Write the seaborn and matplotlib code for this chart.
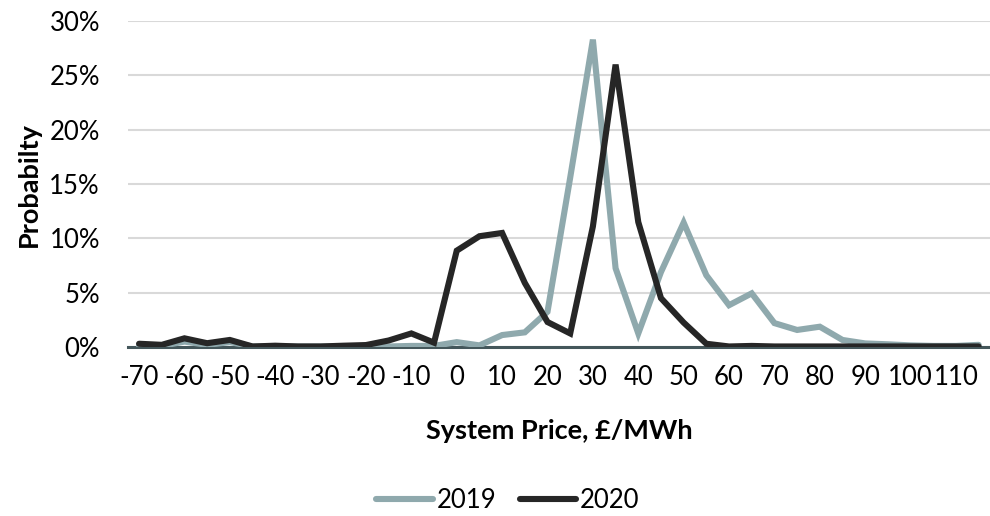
import matplotlib
matplotlib.use("Agg")
import matplotlib.pyplot as plt
from matplotlib.ticker import PercentFormatter
import numpy as np
import pandas as pd
import seaborn as sns

# System price bins (GBP/MWh), 5-pound steps
price_bins = list(range(-70, 120, 5))

prob_2019 = [0.10, 0.10, 0.50, 0.20, 0.45, 0.05, 0.05, 0.05, 0.05, 0.05,
             0.05, 0.05, 0.10, 0.10, 0.45, 0.15, 1.10, 1.35, 3.25, 15.6,
             28.3, 7.25, 1.25, 6.90, 11.45, 6.60, 3.85, 4.94, 2.20, 1.57,
             1.87, 0.65, 0.33, 0.25, 0.15, 0.10, 0.10, 0.20]

prob_2020 = [0.30, 0.20, 0.80, 0.35, 0.65, 0.05, 0.12, 0.05, 0.05, 0.12,
             0.18, 0.60, 1.25, 0.40, 8.87, 10.20, 10.50, 5.90, 2.30, 1.25,
             11.10, 26.0, 11.50, 4.50, 2.25, 0.30, 0.05, 0.10, 0.05, 0.05,
             0.05, 0.05, 0.05, 0.05, 0.05, 0.05, 0.05, 0.05]

years = ["2019", "2020"]
tick_labels = [str(v) for v in range(-70, 120, 10)]

df = pd.DataFrame({
    "price": price_bins * 2,
    "prob": [v / 100 for v in prob_2019 + prob_2020],
    "year": [years[0]] * len(price_bins) + [years[1]] * len(price_bins),
})

sns.set_theme(style="white")
plt.rcParams["font.family"] = ["Lato", "DejaVu Sans"]
plt.rcParams["text.color"] = "#000000"
plt.rcParams["axes.labelcolor"] = "#000000"

fig = plt.figure(figsize=(9.9, 5.16), dpi=100)
ax = fig.add_axes([0.129, 0.3275, 0.871, 0.6315])

palette = {"2019": "#8FA9AD", "2020": "#262626"}
sns.lineplot(data=df, x="price", y="prob", hue="year", palette=palette,
             linewidth=4.4, ax=ax, legend=False, zorder=3,
             solid_joinstyle="miter")

ax.set_xlim(-72.5, 117.5)
ax.set_ylim(0, 0.30)
ax.set_yticks(np.arange(0, 0.301, 0.05))
ax.yaxis.set_major_formatter(PercentFormatter(1.0, decimals=0))
ax.set_xticks(list(range(-70, 120, 10)))
ax.set_xticklabels(tick_labels)

ax.grid(axis="y", color="#D9D9D9", linewidth=1.5)
ax.grid(axis="x", visible=False)
ax.set_axisbelow(True)
for side in ["top", "right", "left"]:
    ax.spines[side].set_visible(False)
ax.spines["bottom"].set_color("#44575B")
ax.spines["bottom"].set_linewidth(2.2)
ax.spines["bottom"].set_zorder(2)

ax.tick_params(axis="both", length=0, labelsize=18.5, colors="#000000")
ax.tick_params(axis="y", pad=20)
ax.tick_params(axis="x", pad=13)

ax.set_xlabel("System Price, £/MWh", fontsize=19.5, fontweight="bold",
              labelpad=21, color="#000000")
ax.set_ylabel("Probabilty", fontsize=19.5, fontweight="bold",
              labelpad=6, color="#000000")

handles = [plt.Line2D([], [], color=palette[y], linewidth=4.4, solid_capstyle="round")
           for y in years]
fig.legend(handles, years, loc="center", bbox_to_anchor=(0.513, 0.03),
           ncol=2, frameon=False, fontsize=18.5, handlelength=2.2,
           handletextpad=0.15, columnspacing=0.9, labelcolor="#000000")

fig.savefig("out.png", dpi=100)
